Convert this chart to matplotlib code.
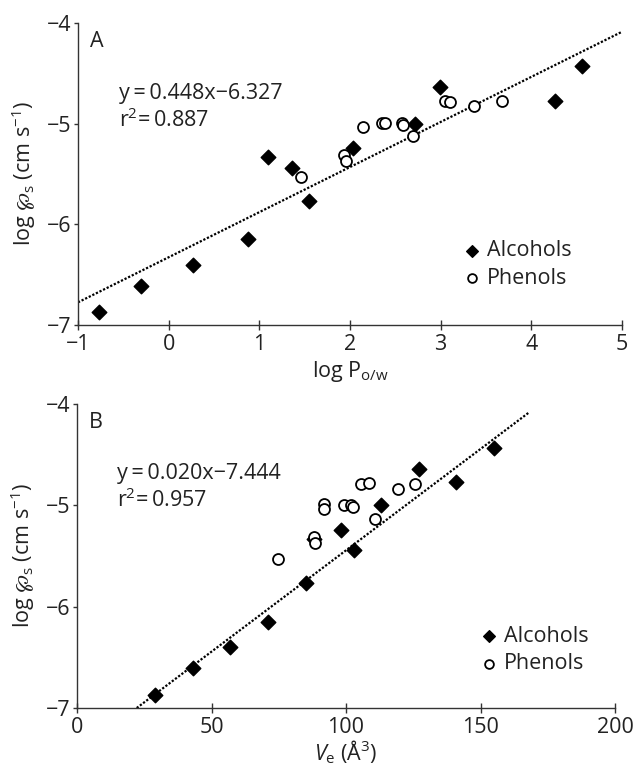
import matplotlib
matplotlib.use("Agg")
import matplotlib.pyplot as plt
import numpy as np

plt.rcParams['font.family'] = ['Open Sans', 'DejaVu Sans']
plt.rcParams['mathtext.fontset'] = 'custom'
plt.rcParams['mathtext.rm'] = 'Open Sans'
plt.rcParams['mathtext.it'] = 'Open Sans:italic'
plt.rcParams['mathtext.fallback'] = 'stixsans'

# Panel A data (log Po/w)
alc_logp = [-0.77, -0.30, 0.27, 0.88, 1.10, 1.36, 1.55, 2.03, 2.72, 2.99, 4.26, 4.56]
alc_logperm = [-6.87, -6.61, -6.40, -6.15, -5.33, -5.44, -5.77, -5.24, -5.00, -4.64, -4.77, -4.43]
phe_logp = [1.46, 1.93, 1.96, 2.14, 2.35, 2.39, 2.57, 2.58, 2.70, 3.05, 3.10, 3.37, 3.68]
phe_logperm = [-5.53, -5.31, -5.37, -5.03, -4.99, -4.99, -4.99, -5.01, -5.12, -4.77, -4.78, -4.82, -4.77]

# Panel B data (Ve)
alc_ve = [29, 43, 57, 71, 85, 88, 98, 103, 113, 127, 141, 155]
alc_logperm_b = [-6.87, -6.61, -6.40, -6.15, -5.77, -5.33, -5.24, -5.44, -5.00, -4.64, -4.77, -4.43]
phe_ve = [74.7, 88.2, 88.3, 91.7, 91.7, 99.2, 102.0, 102.6, 105.6, 108.6, 110.6, 119.2, 125.5]
phe_logperm_b = [-5.53, -5.31, -5.37, -4.99, -5.04, -5.00, -5.00, -5.02, -4.79, -4.78, -5.13, -4.84, -4.79]

fitA = (0.448, -6.327)
fitB = (0.020, -7.444)
fitA_range = [-1, 5]
fitB_range = [22.2, 168]

fig = plt.figure(figsize=(6.37, 7.66), dpi=100)
axA = fig.add_axes([78/637, 1-325/766, 544/637, 302/766])
axB = fig.add_axes([77/637, 1-708/766, 538/637, 304/766])

FS = 15.5
ylab = "log $\\wp_\\mathregular{s}$ (cm s$^{\\mathregular{\u22121}}$)"

def style(ax):
    for s in ['top', 'right']:
        ax.spines[s].set_visible(False)
    for s in ['left', 'bottom']:
        ax.spines[s].set_color('#333333')
        ax.spines[s].set_linewidth(1.0)
    ax.tick_params(axis='x', direction='inout', length=7, width=1, color='#333333',
                   labelsize=FS, pad=3, labelcolor='#222222')
    ax.tick_params(axis='y', direction='out', length=3, width=1, color='#333333',
                   labelsize=FS, pad=2, labelcolor='#222222')

def draw(ax, ax_x, ay, px, py, fit, frange, xlim, xticks, xlabel, eq, letter, leg_x, leg_y, eq_y, xlpad):
    xs = np.array(frange)
    ax.plot(xs, fit[0]*xs + fit[1], linestyle=(0, (1, 0.8)), color='black', lw=1.6, zorder=1)
    ax.scatter(ax_x, ay, marker='D', s=55, color='black', zorder=3, label='Alcohols')
    ax.scatter(px, py, marker='o', s=62, facecolor='white', edgecolor='black',
               linewidth=1.3, zorder=3, label='Phenols')
    ax.set_xlim(*xlim)
    ax.set_ylim(-7, -4)
    ax.set_xticks(xticks)
    ax.set_yticks([-7, -6, -5, -4])
    ax.set_xlabel(xlabel, fontsize=FS, color='#222222', labelpad=xlpad)
    ax.set_ylabel(ylab, fontsize=FS, color='#222222', labelpad=6)
    style(ax)
    ax.text(0.022, 0.94, letter, transform=ax.transAxes, fontsize=FS, color='#222222',
            va='center', ha='left')
    ax.text(0.075, eq_y, eq, transform=ax.transAxes, fontsize=FS, color='#222222',
            va='center', ha='left', linespacing=1.2)
    ax.legend(loc='upper left', bbox_to_anchor=(leg_x, leg_y), frameon=False,
              fontsize=FS, handletextpad=0.2, labelspacing=0.3, handlelength=1.0,
              borderpad=0, borderaxespad=0, labelcolor='#222222', markerscale=0.8)

draw(axA, alc_logp, alc_logperm, phe_logp, phe_logperm, fitA, fitA_range,
     (-1, 5), [-1, 0, 1, 2, 3, 4, 5], "log P$_\\mathregular{o/w}$",
     "y\u2009=\u20090.448x\u22126.327\nr$^\\mathregular{2}$=\u20090.887", "A", 0.705, 0.28, 0.72, 3)
draw(axB, alc_ve, alc_logperm_b, phe_ve, phe_logperm_b, fitB, fitB_range,
     (0, 200), [0, 50, 100, 150, 200], "$\\mathit{V}_\\mathregular{e}$ (\u00c5$^\\mathregular{3}$)",
     "y\u2009=\u20090.020x\u22127.444\nr$^\\mathregular{2}$=\u20090.957", "B", 0.745, 0.27, 0.725, 0)

fig.savefig("out.png", dpi=100)
